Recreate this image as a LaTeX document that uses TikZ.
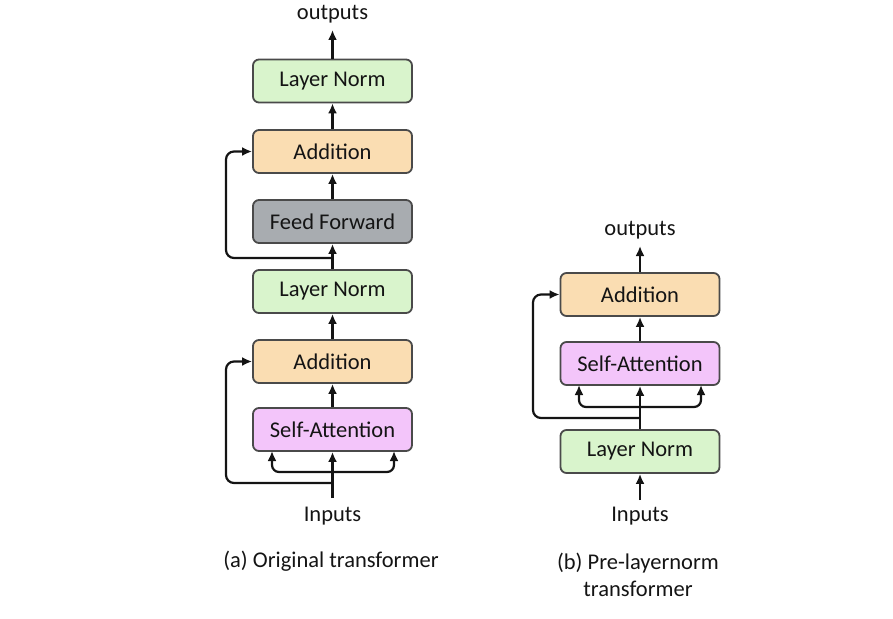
\documentclass[tikz,border=0pt]{standalone}
\usepackage{fontspec}
\setmainfont{Carlito}
\usetikzlibrary{arrows.meta}
\definecolor{lngreen}{HTML}{D9F4CC}
\definecolor{addorange}{HTML}{FADDB2}
\definecolor{ffgray}{HTML}{A8ACB0}
\definecolor{sapink}{HTML}{F3C5FA}
\definecolor{edge}{HTML}{4A4A4A}
\definecolor{ink}{HTML}{141414}
\tikzset{
  blk/.style={draw=edge, line width=1.8pt, rounded corners=6pt, minimum width=159pt, minimum height=43pt, inner sep=0pt, font=\fontsize{22.5}{27}\selectfont, text=ink},
  lbl/.style={font=\fontsize{22.5}{27}\selectfont, text=ink, inner sep=0pt},
  arr/.style={draw=ink, line width=2.2pt, -{Latex[length=10pt,width=9pt]}},
}
\begin{document}
\begin{tikzpicture}[x=1pt,y=-1pt]
\useasboundingbox (0,0) rectangle (893,618);
% ---- left column ----
\node[blk, fill=lngreen] (ln1) at (332.5,81) {Layer Norm};
\node[blk, fill=addorange] (ad1) at (332.5,151.5) {Addition};
\node[blk, fill=ffgray] (ff) at (332.5,221.5) {Feed Forward};
\node[blk, fill=lngreen] (ln2) at (332.5,291.5) {Layer Norm};
\node[blk, fill=addorange] (ad2) at (332.5,361.5) {Addition};
\node[blk, fill=sapink] (sa) at (332.5,429.5) {Self-Attention};
\node[lbl] (outa) at (332.5,14) {outputs};
\node[lbl] (ina) at (332.5,516) {Inputs};
\node[lbl] (capa) at (331,561) {(a) Original transformer};
\coordinate (outatip) at (332.5,30);
\coordinate (inastart) at (332.5,498);
\coordinate (f1) at (332.5,258);
\coordinate (f2) at (332.5,483);
\coordinate (t1) at (332.5,472);
\draw[arr] (ln1.north) -- (outatip);
\draw[arr] (ad1.north) -- (ln1.south);
\draw[arr] (ff.north) -- (ad1.south);
\draw[arr] (ln2.north) -- (ff.south);
\draw[arr] (ad2.north) -- (ln2.south);
\draw[arr] (sa.north) -- (ad2.south);
\draw[arr] (inastart) -- (sa.south);
\draw[arr, rounded corners=8pt] (f1) -- (226,258) -- (226,151.5) -- (ad1.west);
\draw[arr, rounded corners=8pt] (f2) -- (226,483) -- (226,361.5) -- (ad2.west);
\draw[arr, rounded corners=7pt] (t1) -- (272,472) -- (272,451);
\draw[arr, rounded corners=7pt] (t1) -- (394,472) -- (394,451);
% ---- right column ----
\node[blk, fill=addorange] (ad3) at (640,294.5) {Addition};
\node[blk, fill=sapink] (sa2) at (640,363.5) {Self-Attention};
\node[blk, fill=lngreen] (ln3) at (640,451.5) {Layer Norm};
\node[lbl] (outb) at (640,230) {outputs};
\node[lbl] (inb) at (640,516) {Inputs};
\node[lbl, align=center] (capb) at (638,575) {(b) Pre-layernorm\\transformer};
\coordinate (outbtip) at (640,246);
\coordinate (inbstart) at (640,500);
\coordinate (f3) at (640,418);
\coordinate (t2) at (640,407);
\draw[arr] (ad3.north) -- (outbtip);
\draw[arr] (sa2.north) -- (ad3.south);
\draw[arr] (ln3.north) -- (sa2.south);
\draw[arr] (inbstart) -- (ln3.south);
\draw[arr, rounded corners=8pt] (f3) -- (533,418) -- (533,294.5) -- (ad3.west);
\draw[arr, rounded corners=7pt] (t2) -- (579,407) -- (579,385);
\draw[arr, rounded corners=7pt] (t2) -- (701,407) -- (701,385);
\end{tikzpicture}
\end{document}
